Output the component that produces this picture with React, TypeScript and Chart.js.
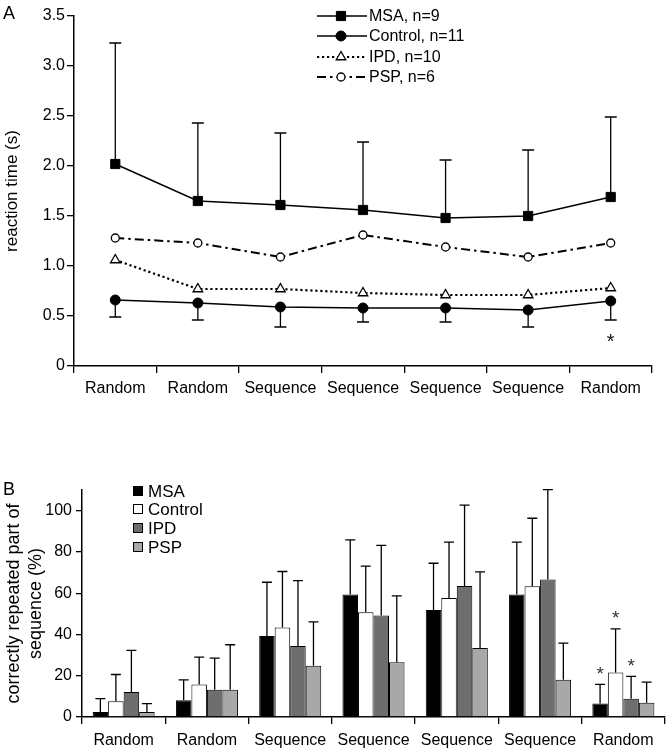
import React, { useEffect, useRef } from "react";
import { Chart, registerables } from "chart.js";

Chart.register(...registerables);

const FONT = "'Liberation Sans', Arial, Helvetica, sans-serif";

// ---------- shared ----------
const categories = ["Random", "Random", "Sequence", "Sequence", "Sequence", "Sequence", "Random"];

// ---------- Panel A: reaction time (s) ----------
const msaRT = [2.02, 1.65, 1.61, 1.56, 1.48, 1.5, 1.69];
const msaRTUpper = [3.23, 2.43, 2.33, 2.24, 2.06, 2.16, 2.49];
const controlRT = [0.66, 0.63, 0.59, 0.58, 0.58, 0.56, 0.65];
const controlRTLower = [0.49, 0.46, 0.39, 0.44, 0.44, 0.39, 0.46];
const ipdRT = [1.06, 0.77, 0.77, 0.73, 0.71, 0.71, 0.78];
const pspRT = [1.28, 1.23, 1.09, 1.31, 1.19, 1.09, 1.23];
const rtStarValues = [null, null, null, null, null, null, 0.28];
const rtLegend = ["MSA, n=9", "Control, n=11", "IPD, n=10", "PSP, n=6"];

// ---------- Panel B: correctly repeated part of sequence (%) ----------
const msaPct = [2.4, 8.1, 39.2, 59.4, 51.9, 59.4, 6.5];
const msaPctUpper = [8.9, 18, 65.3, 85.8, 74.5, 84.7, 15.8];
const controlPct = [7.6, 15.8, 43.4, 50.8, 57.7, 63.4, 21.6];
const controlPctUpper = [20.6, 29, 70.5, 73.1, 84.7, 96.3, 42.7];
const ipdPct = [12.1, 13.2, 34.4, 49.2, 63.5, 66.6, 8.9];
const ipdPctUpper = [32.3, 28.5, 66.1, 83.2, 102.7, 110.2, 19.7];
const pspPct = [2.4, 13.2, 24.8, 26.5, 33.4, 18.1, 6.9];
const pspPctUpper = [6.5, 35, 46.1, 58.7, 70.3, 35.8, 16.9];
const msaStar = [false, false, false, false, false, false, true];
const controlStar = [false, false, false, false, false, false, true];
const ipdStar = [false, false, false, false, false, false, true];
const pspStar = [false, false, false, false, false, false, false];
const pctLegend = ["MSA", "Control", "IPD", "PSP"];

function drawMarker(ctx: CanvasRenderingContext2D, style: string, r: number, cx: number, cy: number, fill: string, bw: number) {
  ctx.save();
  ctx.fillStyle = fill;
  ctx.strokeStyle = "#000";
  ctx.lineWidth = bw;
  ctx.beginPath();
  if (style === "rect") {
    const s = r * Math.SQRT1_2;
    ctx.rect(cx - s, cy - s, 2 * s, 2 * s);
  } else if (style === "triangle") {
    const h = r * 1.5;
    const w = r * Math.sqrt(3);
    ctx.moveTo(cx - w / 2, cy + h / 3);
    ctx.lineTo(cx + w / 2, cy + h / 3);
    ctx.lineTo(cx, cy - (2 * h) / 3);
    ctx.closePath();
  } else {
    ctx.arc(cx, cy, r, 0, Math.PI * 2);
  }
  ctx.fill();
  ctx.stroke();
  ctx.restore();
}

function App() {
  const refA = useRef<HTMLCanvasElement | null>(null);
  const refB = useRef<HTMLCanvasElement | null>(null);

  useEffect(() => {
    Chart.defaults.font.family = FONT;
    Chart.defaults.color = "#000";

    // ---------------- Chart A ----------------
    const errA = {
      id: "errA",
      beforeDatasetsDraw(chart: any) {
        const { ctx } = chart;
        const y = chart.scales.y;
        ctx.save();
        ctx.strokeStyle = "#000";
        ctx.lineWidth = 1.3;
        const draw = (dsIndex: number, ends: number[]) => {
          const meta = chart.getDatasetMeta(dsIndex);
          meta.data.forEach((pt: any, i: number) => {
            const y2 = y.getPixelForValue(ends[i]);
            ctx.beginPath();
            ctx.moveTo(pt.x, pt.y);
            ctx.lineTo(pt.x, y2);
            ctx.moveTo(pt.x - 6, y2);
            ctx.lineTo(pt.x + 6, y2);
            ctx.stroke();
          });
        };
        draw(0, msaRTUpper);
        draw(1, controlRTLower);
        ctx.restore();
      },
      afterDraw(chart: any) {
        const { ctx } = chart;
        const x = chart.scales.x;
        const y = chart.scales.y;
        ctx.save();
        ctx.fillStyle = "#111";
        ctx.font = `20px ${FONT}`;
        ctx.textAlign = "center";
        ctx.textBaseline = "middle";
        rtStarValues.forEach((v, i) => {
          if (v == null) return;
          ctx.fillText("*", x.getPixelForValue(i), y.getPixelForValue(v) + 4);
        });
        ctx.fillStyle = "#000";
        ctx.font = `18px ${FONT}`;
        ctx.textAlign = "left";
        ctx.textBaseline = "top";
        ctx.fillText("A", 3, 5);
        const rows = [16, 36, 57, 77];
        const x0 = 317, x1 = 367, xm = 341;
        chart.data.datasets.forEach((ds: any, i: number) => {
          const ry = rows[i];
          ctx.strokeStyle = "#000";
          ctx.lineWidth = ds.borderWidth;
          ctx.setLineDash(ds.borderDash || []);
          ctx.beginPath();
          ctx.moveTo(x0, ry);
          ctx.lineTo(x1, ry);
          ctx.stroke();
          ctx.setLineDash([]);
          drawMarker(ctx, ds.pointStyle, ds.pointRadius, xm, ry, ds.pointBackgroundColor, ds.pointBorderWidth);
          ctx.fillStyle = "#000";
          ctx.font = `16px ${FONT}`;
          ctx.textAlign = "left";
          ctx.textBaseline = "middle";
          ctx.fillText(rtLegend[i], x1 + 2, ry + 1);
        });
        ctx.restore();
      },
    };

    const chartA = new Chart(refA.current as HTMLCanvasElement, {
      type: "line",
      data: {
        labels: categories,
        datasets: [
          {
            label: rtLegend[0],
            data: msaRT,
            borderColor: "#000",
            borderWidth: 1.5,
            pointStyle: "rect",
            pointRadius: 6.5,
            pointBackgroundColor: "#000",
            pointBorderColor: "#000",
            pointBorderWidth: 1,
          },
          {
            label: rtLegend[1],
            data: controlRT,
            borderColor: "#000",
            borderWidth: 1.5,
            pointStyle: "circle",
            pointRadius: 5,
            pointBackgroundColor: "#000",
            pointBorderColor: "#000",
            pointBorderWidth: 1,
          },
          {
            label: rtLegend[2],
            data: ipdRT,
            borderColor: "#000",
            borderWidth: 2.2,
            borderDash: [2.2, 2.8],
            pointStyle: "triangle",
            pointRadius: 5.5,
            pointBackgroundColor: "#fff",
            pointBorderColor: "#000",
            pointBorderWidth: 1.3,
          },
          {
            label: rtLegend[3],
            data: pspRT,
            borderColor: "#000",
            borderWidth: 2,
            borderDash: [9, 4, 2.5, 4],
            pointStyle: "circle",
            pointRadius: 4,
            pointBackgroundColor: "#fff",
            pointBorderColor: "#000",
            pointBorderWidth: 1.3,
          },
        ],
      },
      options: {
        responsive: false,
        animation: false,
        events: [],
        layout: { padding: { top: 16, right: 14, left: 0, bottom: 0 } },
        plugins: { legend: { display: false }, tooltip: { enabled: false } },
        scales: {
          x: {
            type: "category",
            offset: true,
            grid: { offset: true, drawOnChartArea: false, drawTicks: true, tickLength: 7, color: "#000", lineWidth: 1.3 },
            border: { display: true, color: "#000", width: 1.5 },
            ticks: { font: { size: 16 }, color: "#000", padding: 6, maxRotation: 0, autoSkip: false },
            afterFit: (s: any) => {
              s.height = 34;
            },
          },
          y: {
            min: 0,
            max: 3.5,
            ticks: {
              stepSize: 0.5,
              font: { size: 16 },
              color: "#000",
              padding: 2,
              callback: (v: any) => (Number(v) === 0 ? "0" : Number(v).toFixed(1)),
            },
            grid: { drawOnChartArea: false, drawTicks: true, tickLength: 7, color: "#000", lineWidth: 1.3 },
            border: { display: true, color: "#000", width: 1.5 },
            title: { display: true, text: "reaction time (s)", font: { size: 17 }, color: "#000", padding: { top: 2, bottom: 0 } },
            afterFit: (s: any) => {
              s.width = 74;
            },
          },
        },
      },
      plugins: [errA],
    } as any);

    // ---------------- Chart B ----------------
    const upperB = [msaPctUpper, controlPctUpper, ipdPctUpper, pspPctUpper];
    const starsB = [msaStar, controlStar, ipdStar, pspStar];
    const errB = {
      id: "errB",
      afterDatasetsDraw(chart: any) {
        const { ctx } = chart;
        const y = chart.scales.y;
        ctx.save();
        ctx.strokeStyle = "#000";
        ctx.lineWidth = 1.3;
        upperB.forEach((ends, d) => {
          const meta = chart.getDatasetMeta(d);
          meta.data.forEach((bar: any, i: number) => {
            const y2 = y.getPixelForValue(ends[i]);
            ctx.beginPath();
            ctx.moveTo(bar.x, bar.y);
            ctx.lineTo(bar.x, y2);
            ctx.moveTo(bar.x - 5, y2);
            ctx.lineTo(bar.x + 5, y2);
            ctx.stroke();
            if (starsB[d][i]) {
              ctx.fillStyle = "#333";
              ctx.font = `19px ${FONT}`;
              ctx.textAlign = "center";
              ctx.textBaseline = "middle";
              ctx.fillText("*", bar.x, y2 - 10);
            }
          });
        });
        ctx.restore();
      },
      afterDraw(chart: any) {
        const { ctx } = chart;
        ctx.save();
        ctx.fillStyle = "#000";
        ctx.font = `18px ${FONT}`;
        ctx.textAlign = "left";
        ctx.textBaseline = "top";
        ctx.fillText("B", 3, 11);
        const rows = [21, 39, 58, 77];
        chart.data.datasets.forEach((ds: any, i: number) => {
          const ry = rows[i];
          ctx.fillStyle = ds.backgroundColor;
          ctx.strokeStyle = "#000";
          ctx.lineWidth = 1;
          ctx.fillRect(133, ry - 5, 10, 10);
          ctx.strokeRect(133.5, ry - 4.5, 9, 9);
          ctx.fillStyle = "#000";
          ctx.font = `17px ${FONT}`;
          ctx.textBaseline = "middle";
          ctx.fillText(pctLegend[i], 148, ry + 1);
        });
        ctx.restore();
      },
    };

    const barCommon = { borderColor: "#000", borderWidth: 1, barPercentage: 1, categoryPercentage: 0.745 };
    const chartB = new Chart(refB.current as HTMLCanvasElement, {
      type: "bar",
      data: {
        labels: categories,
        datasets: [
          { label: pctLegend[0], data: msaPct, backgroundColor: "#000", ...barCommon },
          { label: pctLegend[1], data: controlPct, backgroundColor: "#fff", ...barCommon },
          { label: pctLegend[2], data: ipdPct, backgroundColor: "#6e6e6e", ...barCommon },
          { label: pctLegend[3], data: pspPct, backgroundColor: "#a8a8a8", ...barCommon },
        ],
      },
      options: {
        responsive: false,
        animation: false,
        events: [],
        layout: { padding: { top: 20, right: 1, left: 0, bottom: 0 } },
        plugins: { legend: { display: false }, tooltip: { enabled: false } },
        scales: {
          x: {
            type: "category",
            offset: true,
            grid: { offset: true, drawOnChartArea: false, drawTicks: true, tickLength: 7, color: "#000", lineWidth: 1.3 },
            border: { display: true, color: "#000", width: 1.5 },
            ticks: { font: { size: 16 }, color: "#000", padding: 7, maxRotation: 0, autoSkip: false },
            afterFit: (s: any) => {
              s.height = 37;
            },
          },
          y: {
            min: 0,
            max: 110,
            ticks: { stepSize: 20, font: { size: 16 }, color: "#000", padding: 4 },
            afterBuildTicks: (s: any) => {
              s.ticks = s.ticks.filter((t: any) => t.value <= 100);
            },
            grid: { drawOnChartArea: false, drawTicks: true, tickLength: 6, color: "#000", lineWidth: 1.3 },
            border: { display: true, color: "#000", width: 1.5 },
            title: {
              display: true,
              text: ["correctly repeated part of", "sequence (%)"],
              font: { size: 18, lineHeight: 1.22 },
              color: "#000",
              padding: { top: 3, bottom: 0 },
            },
            afterFit: (s: any) => {
              s.width = 82;
            },
          },
        },
      },
      plugins: [errB],
    } as any);

    return () => {
      chartA.destroy();
      chartB.destroy();
    };
  }, []);

  return (
    <div style={{ position: "absolute", left: 0, top: 0, width: 666, height: 754, background: "#fff" }}>
      <canvas ref={refA} width={666} height={400} style={{ position: "absolute", left: 0, top: 0 }} />
      <canvas ref={refB} width={666} height={284} style={{ position: "absolute", left: 0, top: 470 }} />
    </div>
  );
}

export default App;
